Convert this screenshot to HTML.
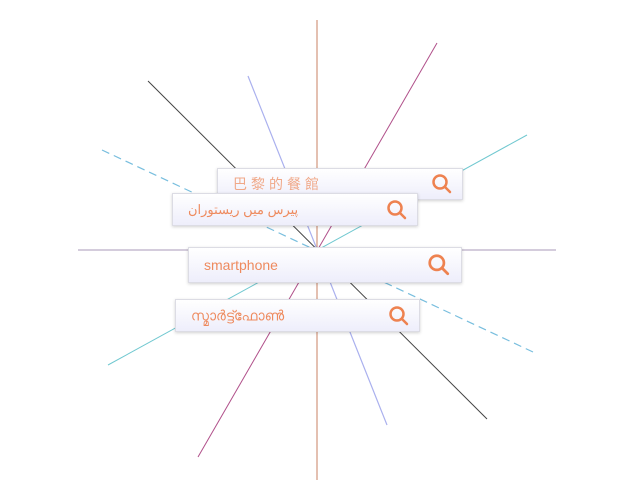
<!DOCTYPE html>
<html><head><meta charset="utf-8"><style>
body{margin:0;width:634px;height:500px;background:#fff;position:relative;overflow:hidden;font-family:"Liberation Sans","Noto Sans CJK SC",sans-serif}
svg{position:absolute;left:0;top:0}
.b{position:absolute;box-sizing:border-box;background:linear-gradient(#ffffff,#eeeefb);border:1px solid #dcdce4;box-shadow:0 1px 3px rgba(0,0,0,0.18);color:#ee8a5e}
.b span{position:absolute;left:15px;top:50%;transform:translateY(-50%);white-space:nowrap}
.b svg{position:absolute;left:auto;top:50%;transform:translateY(-50%)}
</style></head><body>
<svg width="634" height="500">
<line x1="317" y1="20" x2="317" y2="480" stroke="#c98263" stroke-width="1"/>
<line x1="78" y1="250" x2="556" y2="250" stroke="#a89ab8" stroke-width="1"/>
<line x1="148" y1="81" x2="487" y2="419" stroke="#444" stroke-width="1"/>
<line x1="248" y1="76" x2="387" y2="425" stroke="#aab0ee" stroke-width="1.2"/>
<line x1="437" y1="43" x2="198" y2="457" stroke="#b0508a" stroke-width="1"/>
<line x1="527" y1="135" x2="108" y2="365" stroke="#70c8d0" stroke-width="1"/>
<line x1="102" y1="150" x2="533" y2="352" stroke="#78bede" stroke-width="1.2" stroke-dasharray="8,5"/>
</svg>
<div class="b" style="left:217px;top:168px;width:246px;height:32px"><span style="font-size:14px;letter-spacing:4px;color:#f0a888">巴黎的餐館</span>
<svg width="22" height="22" style="right:9px" viewBox="0 0 22 22"><circle cx="9" cy="9" r="6.5" fill="none" stroke="#ee8250" stroke-width="2.5"/><line x1="14" y1="14" x2="19" y2="19" stroke="#ee8250" stroke-width="2.5" stroke-linecap="round"/></svg></div>
<div class="b" style="left:172px;top:193px;width:246px;height:33px"><span style="font-size:13px">پیرس میں ریستوران</span>
<svg width="22" height="22" style="right:9px" viewBox="0 0 22 22"><circle cx="9" cy="9" r="6.5" fill="none" stroke="#ee8250" stroke-width="2.5"/><line x1="14" y1="14" x2="19" y2="19" stroke="#ee8250" stroke-width="2.5" stroke-linecap="round"/></svg></div>
<div class="b" style="left:188px;top:247px;width:274px;height:36px"><span style="font-size:14px">smartphone</span>
<svg width="24" height="24" style="right:10px" viewBox="0 0 22 22"><circle cx="9" cy="9" r="6.5" fill="none" stroke="#ee8250" stroke-width="2.5"/><line x1="14" y1="14" x2="19" y2="19" stroke="#ee8250" stroke-width="2.5" stroke-linecap="round"/></svg></div>
<div class="b" style="left:175px;top:299px;width:245px;height:33px"><span style="font-size:14px">സ്മാർട്ട്ഫോൺ</span>
<svg width="22" height="22" style="right:9px" viewBox="0 0 22 22"><circle cx="9" cy="9" r="6.5" fill="none" stroke="#ee8250" stroke-width="2.5"/><line x1="14" y1="14" x2="19" y2="19" stroke="#ee8250" stroke-width="2.5" stroke-linecap="round"/></svg></div>
</body></html>
